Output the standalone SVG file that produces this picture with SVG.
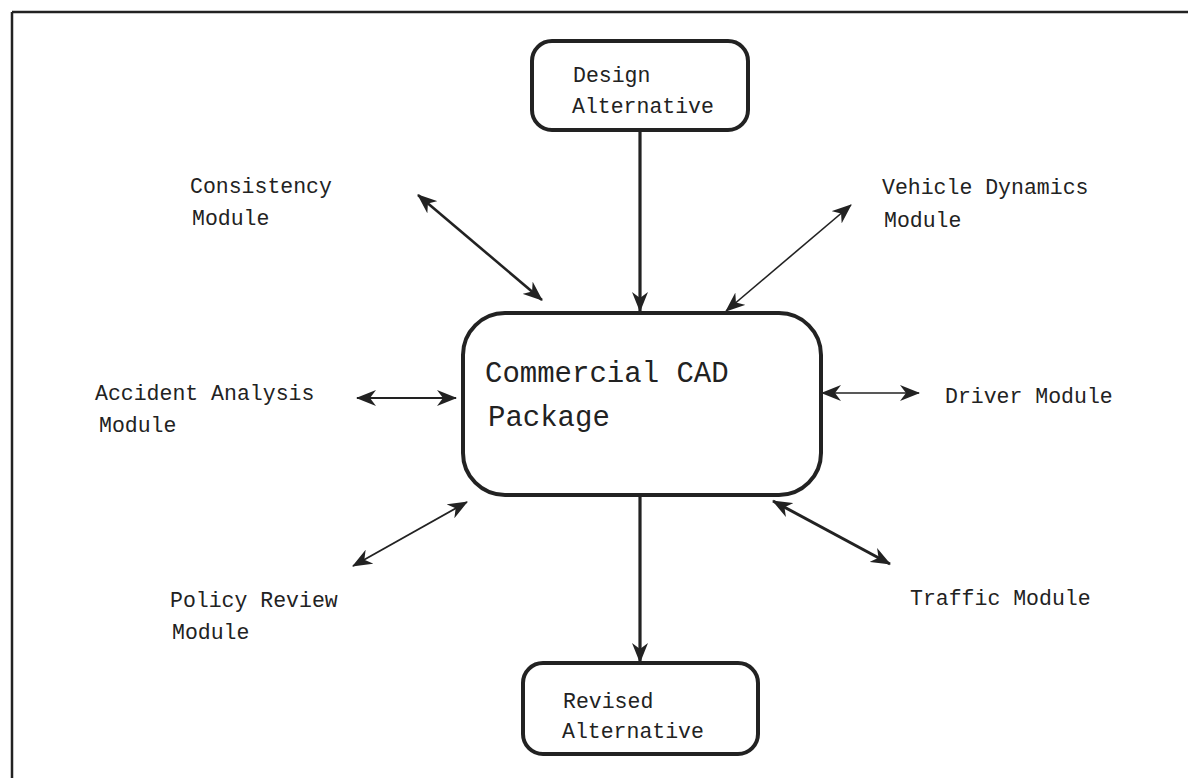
<svg xmlns="http://www.w3.org/2000/svg" width="1188" height="778" viewBox="0 0 1188 778">
  <style>
    .box { fill: #fff; stroke: #222; stroke-width: 4; }
    .lbl { font-family: "Liberation Mono", "Courier New", monospace; font-size: 21.5px; fill: #222; }
    .big { font-size: 29px; }
    .wire { stroke: #222; fill: none; }
  </style>
  <defs>
    <marker id="head" viewBox="0 0 20 16" refX="19" refY="8" markerWidth="20" markerHeight="16" markerUnits="userSpaceOnUse" orient="auto-start-reverse">
      <path d="M0,0 L20,8 L0,16 L6,8 z" fill="#222"/>
    </marker>
  </defs>
  <rect width="1188" height="778" fill="#fff"/>

  <!-- outer frame: top and left rules -->
  <g id="frame" stroke="#222" stroke-width="2.5" fill="none">
    <line x1="12" y1="12" x2="1188" y2="12"/>
    <line x1="12" y1="12" x2="12" y2="778"/>
  </g>

  <g id="connectors">
    <line class="wire" x1="640" y1="130" x2="640" y2="311" stroke-width="3.2" marker-end="url(#head)"/>
    <line class="wire" x1="640" y1="486" x2="640" y2="662" stroke-width="3.2" marker-end="url(#head)"/>
    <line class="wire" x1="418" y1="195" x2="542" y2="300" stroke-width="2.6" marker-start="url(#head)" marker-end="url(#head)"/>
    <line class="wire" x1="851" y1="205" x2="726" y2="311" stroke-width="1.6" marker-start="url(#head)" marker-end="url(#head)"/>
    <line class="wire" x1="357" y1="398" x2="456" y2="398" stroke-width="2" marker-start="url(#head)" marker-end="url(#head)"/>
    <line class="wire" x1="822" y1="393" x2="919" y2="393" stroke-width="1.6" marker-start="url(#head)" marker-end="url(#head)"/>
    <line class="wire" x1="353" y1="566" x2="467" y2="502" stroke-width="1.8" marker-start="url(#head)" marker-end="url(#head)"/>
    <line class="wire" x1="773" y1="501" x2="890" y2="564" stroke-width="3" marker-start="url(#head)" marker-end="url(#head)"/>
  </g>

  <g id="design-alternative">
    <rect class="box" x="532" y="41" width="216" height="89" rx="20"/>
    <text class="lbl" x="573" y="82">Design</text>
    <text class="lbl" x="572" y="113">Alternative</text>
  </g>

  <g id="cad-package">
    <rect class="box" x="463" y="313" width="358" height="182" rx="42"/>
    <text class="lbl big" x="485" y="382">Commercial CAD</text>
    <text class="lbl big" x="488" y="426">Package</text>
  </g>

  <g id="revised-alternative">
    <rect class="box" x="523" y="663" width="235" height="91" rx="20"/>
    <text class="lbl" x="563" y="708">Revised</text>
    <text class="lbl" x="562" y="738">Alternative</text>
  </g>

  <g id="consistency-module">
    <text class="lbl" x="190" y="193">Consistency</text>
    <text class="lbl" x="192" y="225">Module</text>
  </g>

  <g id="vehicle-dynamics-module">
    <text class="lbl" x="882" y="194">Vehicle Dynamics</text>
    <text class="lbl" x="884" y="227">Module</text>
  </g>

  <g id="accident-analysis-module">
    <text class="lbl" x="95" y="400">Accident Analysis</text>
    <text class="lbl" x="99" y="432">Module</text>
  </g>

  <g id="driver-module">
    <text class="lbl" x="945" y="403">Driver Module</text>
  </g>

  <g id="policy-review-module">
    <text class="lbl" x="170" y="607">Policy Review</text>
    <text class="lbl" x="172" y="639">Module</text>
  </g>

  <g id="traffic-module">
    <text class="lbl" x="910" y="605">Traffic Module</text>
  </g>
</svg>
